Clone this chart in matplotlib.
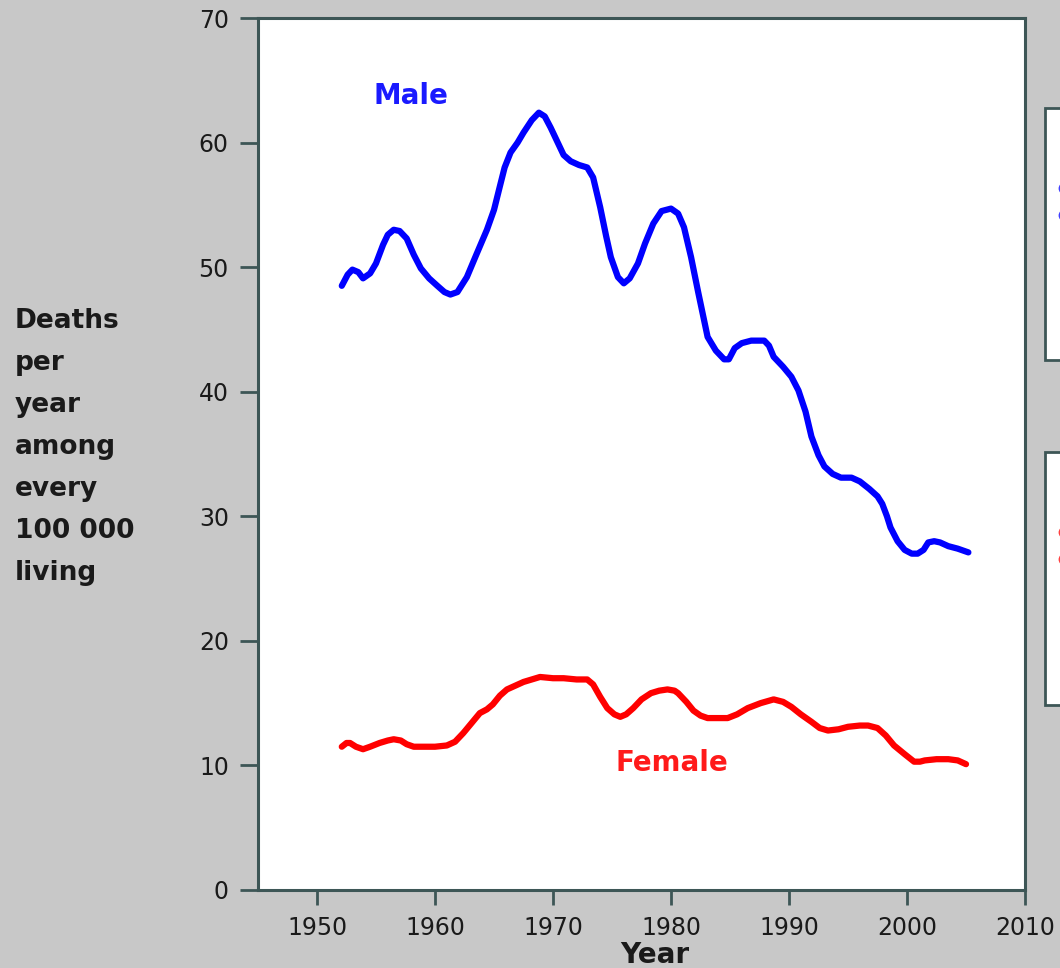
import matplotlib
matplotlib.use("Agg")
import matplotlib.pyplot as plt
from matplotlib.patches import Rectangle
from matplotlib.lines import Line2D

# Data (deaths per year per 100 000 living)
male_years = [1952.1, 1952.6, 1953.0, 1953.5, 1953.9, 1954.5, 1955.0, 1955.6,
              1956.0, 1956.5, 1957.0, 1957.6, 1958.2, 1958.8, 1959.5, 1960.2,
              1960.8, 1961.3, 1961.9, 1962.7, 1963.5, 1964.4, 1965.0, 1965.5,
              1965.9, 1966.4, 1967.0, 1967.5, 1968.2, 1968.8, 1969.3, 1969.8,
              1970.4, 1970.9, 1971.5, 1972.2, 1972.9, 1973.4, 1974.0, 1974.5,
              1974.9, 1975.5, 1976.0, 1976.5, 1977.2, 1977.8, 1978.5, 1979.2,
              1980.0, 1980.6, 1981.1, 1981.7, 1982.3, 1983.1, 1983.8, 1984.5,
              1984.9, 1985.4, 1986.0, 1986.8, 1987.9, 1988.3, 1988.7, 1989.5,
              1990.2, 1990.8, 1991.4, 1991.9, 1992.5, 1993.0, 1993.7, 1994.4,
              1995.3, 1996.0, 1996.8, 1997.5, 1997.9, 1998.3, 1998.6, 1999.2,
              1999.8, 2000.4, 2000.9, 2001.4, 2001.8, 2002.3, 2002.8, 2003.5,
              2004.3, 2005.2]
male = [48.5, 49.4, 49.8, 49.6, 49.1, 49.5, 50.3, 51.8,
        52.6, 53.0, 52.9, 52.3, 51.0, 49.9, 49.1, 48.5,
        48.0, 47.8, 48.0, 49.2, 51.0, 53.0, 54.6, 56.5,
        58.0, 59.2, 60.0, 60.8, 61.8, 62.4, 62.1, 61.2,
        60.0, 59.0, 58.5, 58.2, 58.0, 57.2, 54.8, 52.5,
        50.8, 49.2, 48.7, 49.1, 50.3, 51.9, 53.5, 54.5,
        54.7, 54.3, 53.2, 50.8, 48.0, 44.4, 43.3, 42.6,
        42.6, 43.5, 43.9, 44.1, 44.1, 43.7, 42.8, 42.0,
        41.2, 40.1, 38.4, 36.4, 34.9, 34.0, 33.4, 33.1,
        33.1, 32.8, 32.2, 31.6, 31.0, 30.0, 29.1, 28.0,
        27.3, 27.0, 27.0, 27.3, 27.9, 28.0, 27.9, 27.6,
        27.4, 27.1]

female_years = [1952.1, 1952.5, 1952.8, 1953.3, 1953.9, 1954.5, 1955.3, 1956.0,
                1956.5, 1957.1, 1957.6, 1958.2, 1959.0, 1960.0, 1961.0, 1961.7,
                1962.4, 1963.1, 1963.8, 1964.4, 1964.9, 1965.5, 1966.1, 1966.8,
                1967.5, 1968.2, 1968.9, 1970.0, 1970.9, 1972.0, 1972.9, 1973.4,
                1974.0, 1974.6, 1975.2, 1975.7, 1976.2, 1976.8, 1977.5, 1978.3,
                1979.0, 1979.7, 1980.3, 1980.6, 1981.3, 1981.9, 1982.5, 1983.1,
                1984.0, 1984.8, 1985.6, 1986.5, 1987.6, 1988.7, 1989.5, 1990.2,
                1991.0, 1991.9, 1992.6, 1993.3, 1994.2, 1995.0, 1996.0, 1996.7,
                1997.5, 1998.2, 1998.9, 1999.8, 2000.6, 2001.1, 2001.5, 2002.5,
                2003.5, 2004.3, 2005.0]
female = [11.5, 11.8, 11.8, 11.5, 11.3, 11.5, 11.8, 12.0,
          12.1, 12.0, 11.7, 11.5, 11.5, 11.5, 11.6, 11.9,
          12.6, 13.4, 14.2, 14.5, 14.9, 15.6, 16.1, 16.4,
          16.7, 16.9, 17.1, 17.0, 17.0, 16.9, 16.9, 16.5,
          15.5, 14.6, 14.1, 13.9, 14.1, 14.6, 15.3, 15.8,
          16.0, 16.1, 16.0, 15.8, 15.1, 14.4, 14.0, 13.8,
          13.8, 13.8, 14.1, 14.6, 15.0, 15.3, 15.1, 14.7,
          14.1, 13.5, 13.0, 12.8, 12.9, 13.1, 13.2, 13.2,
          13.0, 12.4, 11.6, 10.9, 10.3, 10.3, 10.4, 10.5,
          10.5, 10.4, 10.1]

xticks = list(range(1950, 2011, 10))
yticks = list(range(0, 71, 10))
ylabel_lines = ["Deaths", "per", "year", "among", "every", "100 000", "living"]

bg = "#c8c8c8"
axis_col = "#3d5656"
text_col = "#1a1a1a"

fig = plt.figure(figsize=(10.6, 9.68), dpi=100, facecolor=bg)
ax = fig.add_axes([0.2434, 0.0806, 0.7236, 0.9008])
ax.set_facecolor("white")

ax.plot(male_years, male, color="#0000ff", lw=4.5, solid_joinstyle="round",
        solid_capstyle="round")
ax.plot(female_years, female, color="#ff0000", lw=4.5,
        solid_joinstyle="round", solid_capstyle="round")

ax.text(1958.0, 63.7, "Male", color="#1a1aff", fontsize=20,
        fontweight="bold", ha="center", va="center")
ax.text(1980.1, 10.2, "Female", color="#ff1a1a", fontsize=20,
        fontweight="bold", ha="center", va="center")

ax.set_xlim(1945, 2010)
ax.set_ylim(0, 70)
ax.set_xticks(xticks)
ax.set_yticks(yticks)
for s in ax.spines.values():
    s.set_color(axis_col)
    s.set_linewidth(2.2)
ax.tick_params(axis="both", direction="out", color=axis_col, width=2,
               labelsize=17, labelcolor=text_col)
ax.tick_params(axis="x", length=11, pad=8)
ax.tick_params(axis="y", length=13, pad=8)

fig.text(655 / 1060, 1 - 955 / 968, "Year", fontsize=20, fontweight="bold",
         color=text_col, ha="center", va="center")

for i, line in enumerate(ylabel_lines):
    fig.text(15 / 1060, 1 - (321 + 42 * i) / 968, line, fontsize=19,
             fontweight="bold", color=text_col, ha="left", va="center")

# partially visible panels on the right edge
for top, bottom, col in [(108, 360, "#4040ff"), (452, 705, "#ff4040")]:
    fig.patches.append(Rectangle((1045 / 1060, 1 - bottom / 968),
                                 0.1, (bottom - top) / 968,
                                 transform=fig.transFigure, facecolor="white",
                                 edgecolor=axis_col, lw=2))
    for dy in (80, 107):
        fig.add_artist(Line2D([1064 / 1060], [1 - (top + dy) / 968],
                              transform=fig.transFigure, marker="o",
                              markersize=7, markerfacecolor="none",
                              markeredgecolor=col, markeredgewidth=1.5))

fig.savefig("out.png", dpi=100, facecolor=bg)
